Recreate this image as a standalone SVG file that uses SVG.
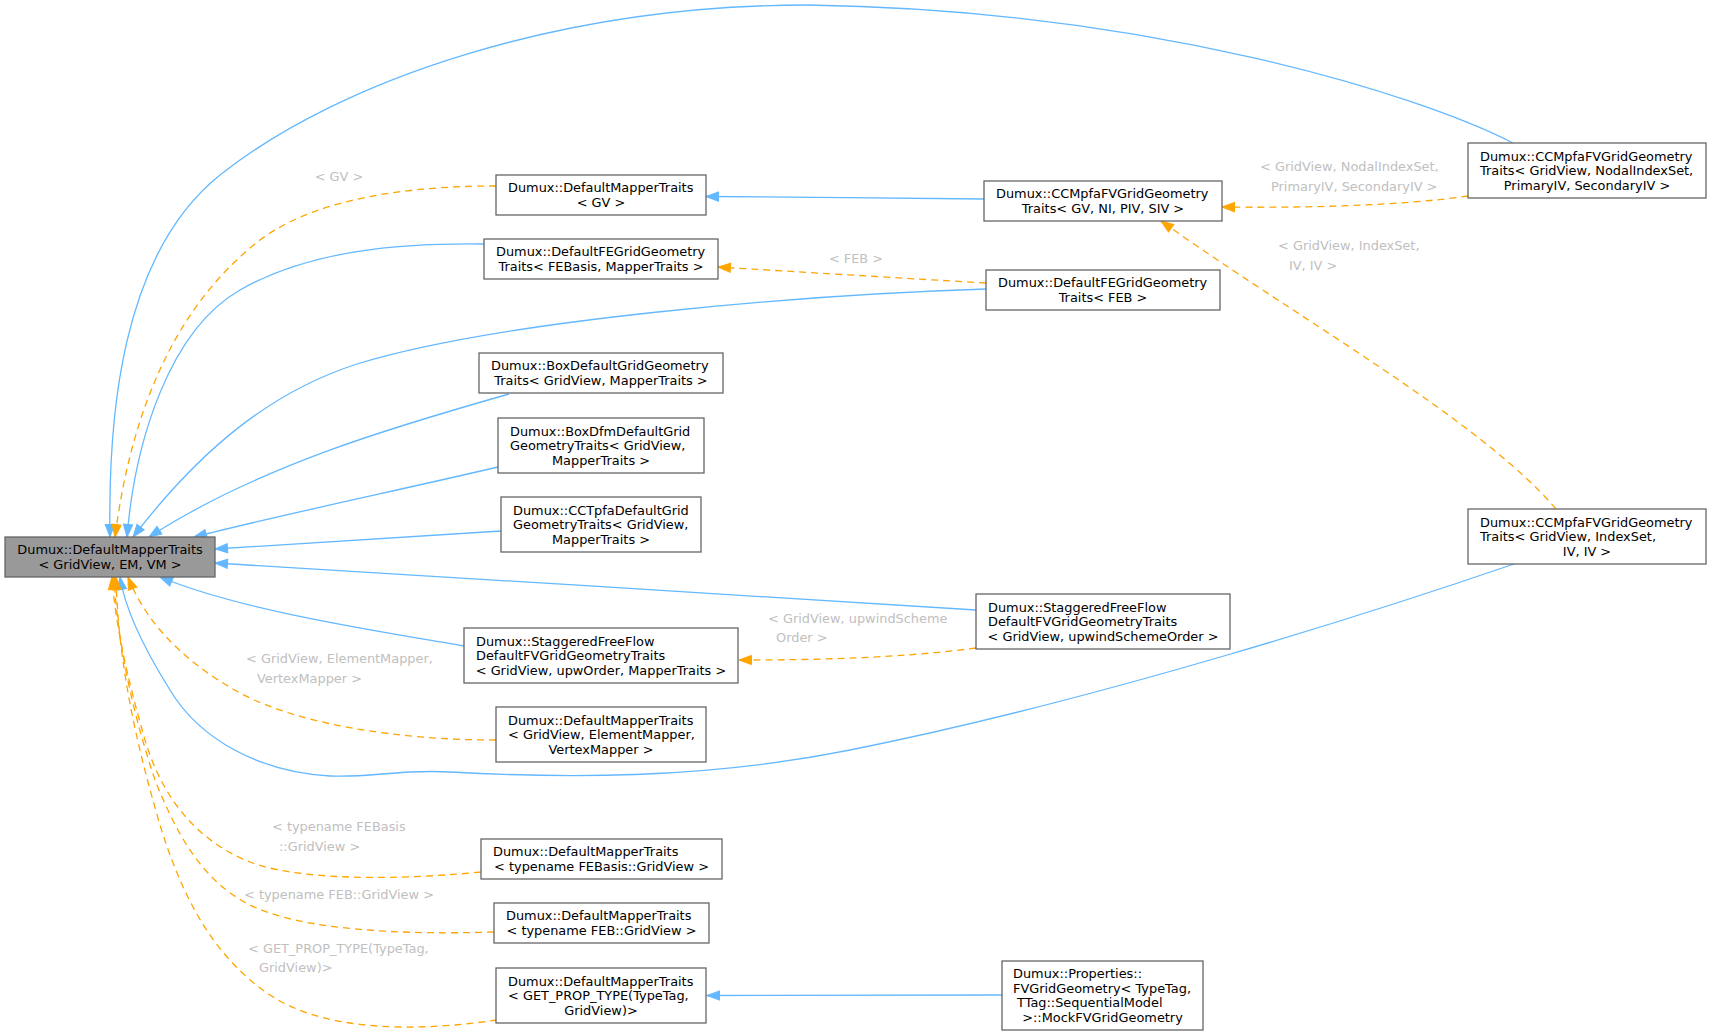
<svg xmlns="http://www.w3.org/2000/svg" width="1712" height="1035" viewBox="0 0 1712 1035">
<style>
  .node rect { fill: #ffffff; stroke: #666666; stroke-width: 1.3; }
  .node.main rect { fill: #999999; }
  text { font-family: "DejaVu Sans", "Noto Sans", sans-serif; font-size: 12.9px; fill: #000000; }
  text.c { text-anchor: middle; }
  text.lbl { fill: #c0c0c0; }
  .inh { fill: none; stroke: #63b8ff; stroke-width: 1.3; marker-end: url(#ab); }
  .tpl { fill: none; stroke: #ffa500; stroke-width: 1.3; stroke-dasharray: 7 5; marker-end: url(#ao); }
</style>
<defs>
  <marker id="ab" markerUnits="userSpaceOnUse" markerWidth="14" markerHeight="12" refX="12.5" refY="5" orient="auto" overflow="visible">
    <path d="M0,0.4 L12.5,5 L0,9.6 z" fill="#63b8ff" stroke="#63b8ff" stroke-width="1"/>
  </marker>
  <marker id="ao" markerUnits="userSpaceOnUse" markerWidth="14" markerHeight="12" refX="12.5" refY="5" orient="auto" overflow="visible">
    <path d="M0,0.4 L12.5,5 L0,9.6 z" fill="#ffa500" stroke="#ffa500" stroke-width="1"/>
  </marker>
</defs>
<rect x="0" y="0" width="1712" height="1035" fill="#ffffff"/>

<g id="edges">
  <path class="inh" d="M1513,143 C1420,95 1150,10 808,5 C560,5 340,80 220,175 C120,255 108,420 110,537"/>
  <path class="tpl" d="M496,186 C420,186 320,195 260,240 C170,310 130,420 115,537"/>
  <path class="inh" d="M484,244 C400,243 310,250 240,290 C170,330 135,440 127,537"/>
  <path class="inh" d="M986,289 C800,295 500,320 357,364 C270,392 200,450 133,537"/>
  <path class="inh" d="M509,394 C400,425 260,465 149,537"/>
  <path class="inh" d="M498,467 C400,490 280,515 194,537"/>
  <path class="inh" d="M501,531 L215,549"/>
  <path class="inh" d="M976,610 C800,598 400,575 215,563"/>
  <path class="inh" d="M464,646 C370,630 240,610 160,577"/>
  <path class="inh" d="M1514,564 C1380,610 1100,700 850,750 C700,780 560,778 450,772 C400,769 370,778 330,776 C260,772 200,740 170,690 C145,650 125,610 120,577"/>
  <path class="tpl" d="M496,740 C400,740 300,725 240,693 C180,660 145,620 128,577"/>
  <path class="tpl" d="M481,872 C380,882 290,878 250,862 C190,838 160,790 145,740 C128,680 116,630 112,577"/>
  <path class="tpl" d="M494,932 C400,935 300,930 250,905 C200,880 175,830 155,780 C135,720 118,650 114,577"/>
  <path class="tpl" d="M497,1020 C430,1030 330,1035 270,995 C210,955 180,890 160,825 C135,740 118,660 116,577"/>
  <path class="inh" d="M984,199 C900,198 790,197 706,196.5"/>
  <path class="tpl" d="M986,283 C900,278 800,272 718,267"/>
  <path class="tpl" d="M1468,196 C1400,206 1300,208 1222,207"/>
  <path class="tpl" d="M1556,509 C1480,420 1300,320 1161,221"/>
  <path class="tpl" d="M976,648 C900,658 820,660 739,660"/>
  <path class="inh" d="M1002,995 L707,995.5"/>

  <text class="lbl c" x="339" y="181">&lt; GV &gt;</text>
  <text class="lbl c" x="856" y="262.5">&lt; FEB &gt;</text>
  <text class="lbl" x="1260" y="171">&lt; GridView, NodalIndexSet,</text>
  <text class="lbl" x="1271" y="191">PrimaryIV, SecondaryIV &gt;</text>
  <text class="lbl" x="1278" y="250">&lt; GridView, IndexSet,</text>
  <text class="lbl" x="1289" y="269.5">IV, IV &gt;</text>
  <text class="lbl" x="768" y="622.5">&lt; GridView, upwindScheme</text>
  <text class="lbl" x="776" y="642">Order &gt;</text>
  <text class="lbl" x="246" y="663">&lt; GridView, ElementMapper,</text>
  <text class="lbl" x="257" y="683">VertexMapper &gt;</text>
  <text class="lbl" x="272" y="831">&lt; typename FEBasis</text>
  <text class="lbl" x="279" y="851">::GridView &gt;</text>
  <text class="lbl" x="244" y="899">&lt; typename FEB::GridView &gt;</text>
  <text class="lbl" x="248" y="953">&lt; GET_PROP_TYPE(TypeTag,</text>
  <text class="lbl" x="259" y="972">GridView)&gt;</text>
</g>

<g id="n1" class="node main">
  <rect x="5" y="537" width="210" height="40"/>
  <text class="c" x="110" y="554.4">Dumux::DefaultMapperTraits</text>
  <text class="c" x="110" y="568.9">&lt; GridView, EM, VM &gt;</text>
</g>
<g id="n2" class="node">
  <rect x="496" y="175" width="210" height="40"/>
  <text x="508" y="192.4">Dumux::DefaultMapperTraits</text>
  <text class="c" x="601" y="206.9">&lt; GV &gt;</text>
</g>
<g id="n3" class="node">
  <rect x="484" y="239" width="234" height="40"/>
  <text x="496" y="256.4">Dumux::DefaultFEGridGeometry</text>
  <text class="c" x="601" y="270.9">Traits&lt; FEBasis, MapperTraits &gt;</text>
</g>
<g id="n4" class="node">
  <rect x="479" y="353" width="244" height="40"/>
  <text x="491" y="370.4">Dumux::BoxDefaultGridGeometry</text>
  <text class="c" x="601" y="384.9">Traits&lt; GridView, MapperTraits &gt;</text>
</g>
<g id="n5" class="node">
  <rect x="498" y="418" width="206" height="55"/>
  <text x="510" y="435.6">Dumux::BoxDfmDefaultGrid</text>
  <text x="510" y="450.1">GeometryTraits&lt; GridView,</text>
  <text class="c" x="601" y="464.6">MapperTraits &gt;</text>
</g>
<g id="n6" class="node">
  <rect x="501" y="497" width="200" height="55"/>
  <text x="513" y="514.6">Dumux::CCTpfaDefaultGrid</text>
  <text x="513" y="529.1">GeometryTraits&lt; GridView,</text>
  <text class="c" x="601" y="543.6">MapperTraits &gt;</text>
</g>
<g id="n7" class="node">
  <rect x="464" y="628" width="274" height="55"/>
  <text x="476" y="645.6">Dumux::StaggeredFreeFlow</text>
  <text x="476" y="660.1">DefaultFVGridGeometryTraits</text>
  <text class="c" x="601" y="674.6">&lt; GridView, upwOrder, MapperTraits &gt;</text>
</g>
<g id="n8" class="node">
  <rect x="496" y="707" width="210" height="55"/>
  <text x="508" y="724.6">Dumux::DefaultMapperTraits</text>
  <text x="508" y="739.1">&lt; GridView, ElementMapper,</text>
  <text class="c" x="601" y="753.6">VertexMapper &gt;</text>
</g>
<g id="n9" class="node">
  <rect x="481" y="839" width="241" height="40"/>
  <text x="493" y="856.4">Dumux::DefaultMapperTraits</text>
  <text class="c" x="601.5" y="870.9">&lt; typename FEBasis::GridView &gt;</text>
</g>
<g id="n10" class="node">
  <rect x="494" y="903" width="215" height="40"/>
  <text x="506" y="920.4">Dumux::DefaultMapperTraits</text>
  <text class="c" x="601.5" y="934.9">&lt; typename FEB::GridView &gt;</text>
</g>
<g id="n11" class="node">
  <rect x="496" y="968" width="210" height="55"/>
  <text x="508" y="985.6">Dumux::DefaultMapperTraits</text>
  <text x="508" y="1000.1">&lt; GET_PROP_TYPE(TypeTag,</text>
  <text class="c" x="601" y="1014.6">GridView)&gt;</text>
</g>
<g id="n12" class="node">
  <rect x="984" y="181" width="238" height="40"/>
  <text x="996" y="198.4">Dumux::CCMpfaFVGridGeometry</text>
  <text class="c" x="1103" y="212.9">Traits&lt; GV, NI, PIV, SIV &gt;</text>
</g>
<g id="n13" class="node">
  <rect x="986" y="270" width="234" height="40"/>
  <text x="998" y="287.4">Dumux::DefaultFEGridGeometry</text>
  <text class="c" x="1103" y="301.9">Traits&lt; FEB &gt;</text>
</g>
<g id="n14" class="node">
  <rect x="976" y="594" width="254" height="55"/>
  <text x="988" y="611.6">Dumux::StaggeredFreeFlow</text>
  <text x="988" y="626.1">DefaultFVGridGeometryTraits</text>
  <text class="c" x="1103" y="640.6">&lt; GridView, upwindSchemeOrder &gt;</text>
</g>
<g id="n15" class="node">
  <rect x="1002" y="961" width="201" height="69"/>
  <text x="1013" y="978.4">Dumux::Properties::</text>
  <text x="1013" y="992.9">FVGridGeometry&lt; TypeTag,</text>
  <text x="1017" y="1007.4">TTag::SequentialModel</text>
  <text class="c" x="1102.5" y="1021.9">&gt;::MockFVGridGeometry</text>
</g>
<g id="n16" class="node">
  <rect x="1468" y="143" width="238" height="55"/>
  <text x="1480" y="160.6">Dumux::CCMpfaFVGridGeometry</text>
  <text x="1480" y="175.1">Traits&lt; GridView, NodalIndexSet,</text>
  <text class="c" x="1587" y="189.6">PrimaryIV, SecondaryIV &gt;</text>
</g>
<g id="n17" class="node">
  <rect x="1468" y="509" width="238" height="55"/>
  <text x="1480" y="526.6">Dumux::CCMpfaFVGridGeometry</text>
  <text x="1480" y="541.1">Traits&lt; GridView, IndexSet,</text>
  <text class="c" x="1587" y="555.6">IV, IV &gt;</text>
</g>
</svg>
